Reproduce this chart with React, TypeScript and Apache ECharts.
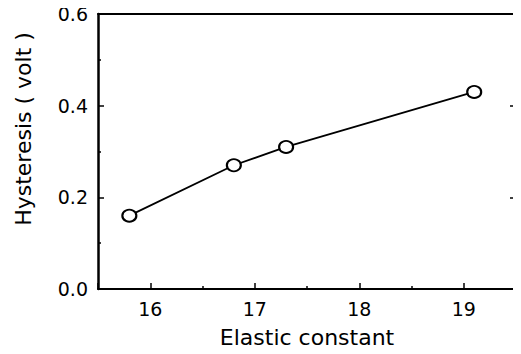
import React, { useEffect, useRef } from "react";
import * as echarts from "echarts";

const elasticConstant = [15.8, 16.8, 17.3, 19.1];
const hysteresis = [0.16, 0.27, 0.31, 0.43];
const xTitle = "Elastic constant";
const yTitle = "Hysteresis ( volt )";

const FONT = "DejaVu Sans";

export default function App() {
  const ref = useRef<HTMLDivElement>(null);
  useEffect(() => {
    if (!ref.current) return;
    const chart = echarts.init(ref.current, null, { renderer: "svg" });
    const axisLine = () => ({ show: true, onZero: false, lineStyle: { color: "#000", width: 2 } });
    const tick = () => ({ show: true, inside: true, length: 6, lineStyle: { color: "#000", width: 1.5 } });
    const minor = () => ({ show: true, splitNumber: 2, length: 3, lineStyle: { color: "#000", width: 1.5 } });
    chart.setOption({
      animation: false,
      backgroundColor: "#fff",
      grid: { left: 98, right: 5, top: 14, bottom: 65 },
      xAxis: [
        {
          type: "value",
          min: 15.5,
          max: 19.5,
          name: xTitle,
          nameLocation: "middle",
          nameGap: 37,
          nameTextStyle: { fontFamily: FONT, fontSize: 22, color: "#000" },
          axisLine: axisLine(),
          axisTick: tick(),
          minorTick: minor(),
          splitLine: { show: false },
          axisLabel: {
            margin: 10,
            fontFamily: FONT,
            fontSize: 19,
            color: "#000",
            showMinLabel: false,
            showMaxLabel: false,
            formatter: (v: number) => (Math.abs(v - Math.round(v)) < 1e-6 ? String(Math.round(v)) : ""),
          },
        },
        {
          type: "value",
          position: "top",
          min: 15.5,
          max: 19.5,
          axisLine: axisLine(),
          axisTick: { show: false },
          axisLabel: { show: false },
          splitLine: { show: false },
        },
      ],
      yAxis: [
        {
          type: "value",
          position: "left",
          min: 0,
          max: 0.6,
          interval: 0.2,
          axisLine: { show: true, onZero: false, lineStyle: { color: "#000", width: 2.5 } },
          axisTick: tick(),
          minorTick: minor(),
          splitLine: { show: false },
          axisLabel: {
            margin: 10,
            fontFamily: FONT,
            fontSize: 19,
            color: "#000",
            formatter: (v: number) => v.toFixed(1),
          },
        },
        {
          type: "value",
          position: "right",
          min: 0,
          max: 0.6,
          interval: 0.2,
          axisLine: axisLine(),
          axisTick: tick(),
          minorTick: minor(),
          splitLine: { show: false },
          axisLabel: { show: false },
        },
      ],
      graphic: [
        {
          type: "text",
          x: 23,
          y: 129,
          rotation: Math.PI / 2,
          style: {
            text: yTitle,
            fontFamily: FONT,
            fontSize: 22,
            fill: "#000",
            align: "center",
            verticalAlign: "middle",
          },
        },
      ],
      series: [
        {
          type: "line",
          data: elasticConstant.map((x, i) => [x, hysteresis[i]]),
          symbol: "circle",
          symbolSize: [14, 12],
          showAllSymbol: true,
          lineStyle: { color: "#000", width: 1.8 },
          itemStyle: { color: "#fff", borderColor: "#000", borderWidth: 2 },
        },
      ],
    });
    return () => chart.dispose();
  }, []);
  return <div ref={ref} style={{ width: 521, height: 354, margin: -8 }} />;
}
